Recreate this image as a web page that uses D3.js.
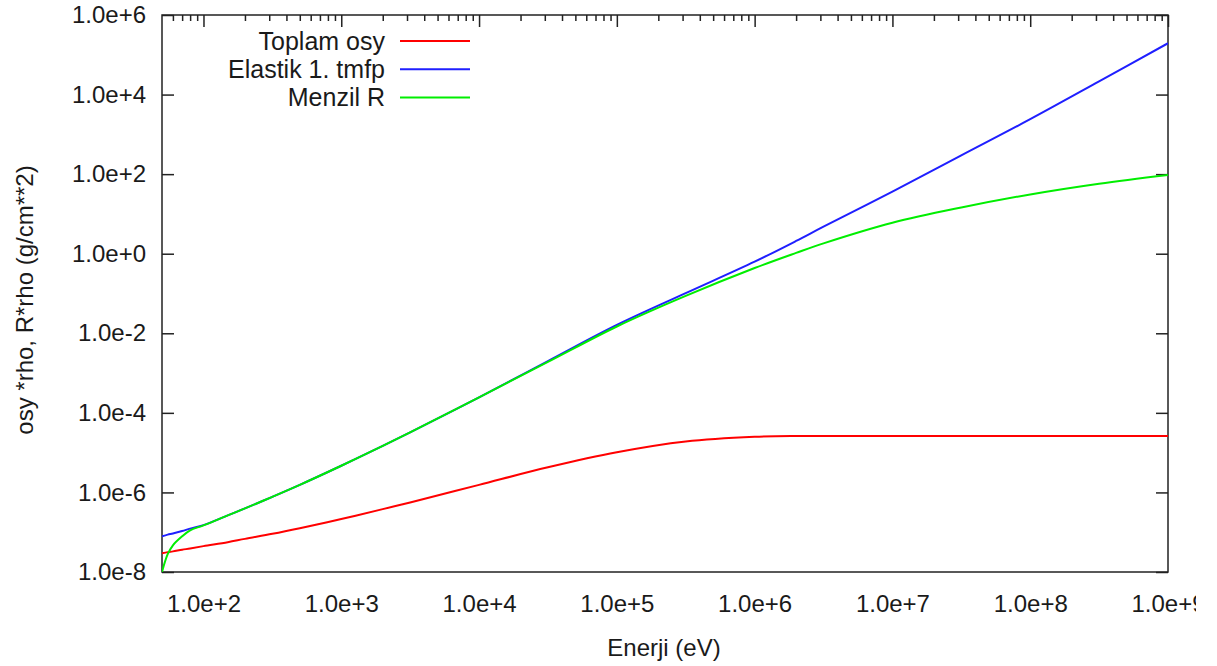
<!DOCTYPE html>
<html>
<head>
<meta charset="utf-8">
<script src="https://cdn.jsdelivr.net/npm/d3@7"></script>
<style>
    body { margin: 0; background: #fff; }
    svg { display: block; font-family: "Liberation Sans", Arial, sans-serif; }
    .tick text { font-size: 24px; fill: #1a1a1a; }
</style>
</head>
<body>
<div id="chart"></div>
<script>
// energies (eV) shared by all three curves
var energies = [50, 55, 60, 70, 80, 100, 150, 200, 316, 500, 1e3, 2e3, 3160, 1e4, 31600,
    1e5, 316000, 1e6, 2e6, 3.16e6, 1e7, 3.16e7, 1e8, 3.16e8, 1e9];

var toplamOsy = [2.95e-8, 3.16e-8, 3.3e-8, 3.63e-8, 3.9e-8, 4.47e-8, 5.6e-8, 6.8e-8, 9.1e-8, 1.26e-7,
    2.14e-7, 3.8e-7, 5.6e-7, 1.55e-6, 4.27e-6, 1.02e-5, 1.9e-5, 2.5e-5, 2.63e-5, 2.63e-5,
    2.63e-5, 2.63e-5, 2.63e-5, 2.63e-5, 2.63e-5];

var elastikTmfp = [7.9e-8, 8.7e-8, 9.3e-8, 1.07e-7, 1.23e-7, 1.51e-7, 2.65e-7, 3.98e-7, 7.76e-7, 1.55e-6,
    4.68e-6, 1.48e-5, 3.24e-5, 2.45e-4, 2.0e-3, 1.62e-2, 0.102, 0.631, 2.09, 4.79,
    36.3, 295, 2400, 21400, 1.95e5];

var menzilR = [1.0e-8, 2.8e-8, 4.7e-8, 7.9e-8, 1.12e-7, 1.48e-7, 2.65e-7, 3.98e-7, 7.76e-7, 1.55e-6,
    4.68e-6, 1.48e-5, 3.24e-5, 2.45e-4, 1.9e-3, 1.48e-2, 8.7e-2, 0.437, 1.05, 1.82,
    6.0, 14.5, 30.9, 57.5, 95.5];

var seriesNames = ["Toplam osy", "Elastik 1. tmfp", "Menzil R"];
var seriesColors = ["#ff0000", "#1f1fff", "#00ee00"];

var xMajor = [1e2, 1e3, 1e4, 1e5, 1e6, 1e7, 1e8, 1e9];
var yMajor = [1e-8, 1e-6, 1e-4, 1e-2, 1e0, 1e2, 1e4, 1e6];

var W = 1217, H = 666;
var pL = 162, pR = 1168, pT = 15, pB = 572;

var svg = d3.select("#chart").append("svg")
    .attr("width", W)
    .attr("height", H);

var x = d3.scaleLog().domain([50, 1e9]).range([pL, pR]);
var y = d3.scaleLog().domain([1e-8, 1e6]).range([pB, pT]);

function sciFmt(d) {
    var e = Math.round(Math.log10(d));
    return "1.0e" + (e < 0 ? "-" : "+") + Math.abs(e);
}

// minor ticks 2..9 per decade inside the domain
var xMinor = [];
for (var k = 1; k <= 8; k++) {
    for (var m = 2; m <= 9; m++) {
        var v = m * Math.pow(10, k);
        if (v > 50 && v < 1e9) xMinor.push(v);
    }
}

svg.append("clipPath").attr("id", "labclip")
    .append("rect").attr("x", 0).attr("y", 0).attr("width", 1196).attr("height", H);

// bottom axis
var gb = svg.append("g")
    .attr("transform", "translate(0," + pB + ")")
    .attr("clip-path", "url(#labclip)");
gb.call(d3.axisBottom(x).tickValues(xMajor).tickFormat(sciFmt)
    .tickSizeInner(-12).tickSizeOuter(0).tickPadding(23));
gb.append("g").call(d3.axisBottom(x).tickValues(xMinor).tickFormat("")
    .tickSizeInner(-6).tickSizeOuter(0));

// top axis (ticks only)
var gt = svg.append("g").attr("transform", "translate(0," + pT + ")");
gt.call(d3.axisTop(x).tickValues(xMajor).tickFormat("").tickSizeInner(-12).tickSizeOuter(0));
gt.append("g").call(d3.axisTop(x).tickValues(xMinor).tickFormat("").tickSizeInner(-6).tickSizeOuter(0));

// left axis
svg.append("g")
    .attr("transform", "translate(" + pL + ",0)")
    .call(d3.axisLeft(y).tickValues(yMajor).tickFormat(sciFmt)
        .tickSizeInner(-12).tickSizeOuter(0).tickPadding(16));

// right axis (ticks only)
svg.append("g")
    .attr("transform", "translate(" + pR + ",0)")
    .call(d3.axisRight(y).tickValues(yMajor).tickFormat("").tickSizeInner(-12).tickSizeOuter(0));

svg.selectAll(".domain").remove();
svg.selectAll(".tick line").attr("stroke", "#222").attr("stroke-width", 1.5);

// frame
svg.append("rect")
    .attr("x", pL).attr("y", pT)
    .attr("width", pR - pL).attr("height", pB - pT)
    .attr("fill", "none")
    .attr("stroke", "#222")
    .attr("stroke-width", 1.5);

svg.append("clipPath").attr("id", "plotclip")
    .append("rect").attr("x", pL).attr("y", pT)
    .attr("width", pR - pL).attr("height", pB - pT);

var line = d3.line()
    .x(function (d) { return x(d[0]); })
    .y(function (d) { return y(d[1]); })
    .curve(d3.curveCatmullRom.alpha(0.5));

var allSeries = [toplamOsy, elastikTmfp, menzilR];

svg.append("g").attr("clip-path", "url(#plotclip)")
    .selectAll("path")
    .data(allSeries)
    .enter()
    .append("path")
    .attr("d", function (vals) {
        return line(energies.map(function (e, i) { return [e, vals[i]]; }));
    })
    .attr("fill", "none")
    .attr("stroke", function (d, i) { return seriesColors[i]; })
    .attr("stroke-width", 2);

// legend
var leg = svg.append("g").selectAll("g")
    .data(seriesNames)
    .enter()
    .append("g")
    .attr("transform", function (d, i) { return "translate(0," + (41 + i * 28.3) + ")"; });

leg.append("text")
    .attr("x", 385)
    .attr("dy", "0.35em")
    .attr("text-anchor", "end")
    .attr("font-size", 25)
    .attr("fill", "#1a1a1a")
    .text(function (d) { return d; });

leg.append("line")
    .attr("x1", 400).attr("x2", 470)
    .attr("stroke", function (d, i) { return seriesColors[i]; })
    .attr("stroke-width", 2);

// axis titles
svg.append("text")
    .attr("x", 664)
    .attr("y", 656)
    .attr("text-anchor", "middle")
    .attr("font-size", 24)
    .attr("fill", "#1a1a1a")
    .text("Enerji (eV)");

svg.append("text")
    .attr("transform", "translate(33,300) rotate(-90)")
    .attr("text-anchor", "middle")
    .attr("font-size", 24)
    .attr("fill", "#1a1a1a")
    .text("osy *rho, R*rho (g/cm**2)");
</script>
</body>
</html>
